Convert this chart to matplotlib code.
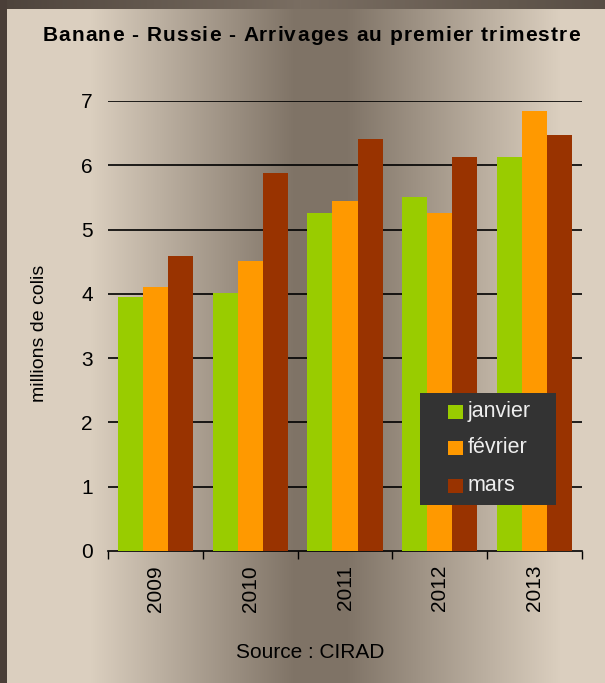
import numpy as np
import matplotlib
matplotlib.use("Agg")
import matplotlib.pyplot as plt
from matplotlib.colors import to_rgb
from matplotlib.patches import Rectangle
from matplotlib.font_manager import FontProperties

plt.rcParams['font.family'] = ['Liberation Sans', 'DejaVu Sans']

years = ['2009', '2010', '2011', '2012', '2013']
series_names = ['janvier', 'février', 'mars']
janvier = [3.95, 4.01, 5.26, 5.51, 6.13]
fevrier = [4.10, 4.51, 5.44, 5.26, 6.84]
mars = [4.59, 5.88, 6.41, 6.13, 6.47]
colors = ['#99cc00', '#ff9900', '#993300']
title = 'Banane - Russie - Arrivages au premier trimestre'
ylabel = 'millions de colis'
source = 'Source : CIRAD'

W, H = 605, 683
fig = plt.figure(figsize=(W / 100, H / 100), dpi=100)


def fx(px):
    return px / W


def fy(py):
    return 1 - py / H


# background gradient
bg = fig.add_axes([0, 0, 1, 1], zorder=-10)
bg.set_axis_off()
light = np.array(to_rgb('#dbcfbf'))
dark = np.array(to_rgb('#7f7366'))
xs = np.arange(W)
t = np.interp(xs, [0, 90, 295, 345, 560, W], [0, 0, 1, 1, 0, 0])
row = light[None, :] * (1 - t[:, None]) + dark[None, :] * t[:, None]
img = np.repeat(row[None, :, :], H, axis=0)
bl = np.array(to_rgb('#4d433b'))
bm = np.array(to_rgb('#7a6e62'))
tb = np.interp(xs, [0, 300, W], [0, 1, 0.25])
band = bl[None, :] * (1 - tb[:, None]) + bm[None, :] * tb[:, None]
img[:9, :, :] = band[None, :, :]
img[:, :7, :] = to_rgb('#4a3f38')
bg.imshow(img, extent=[0, W, 0, H], origin='upper', aspect='auto')
bg.set_xlim(0, W)
bg.set_ylim(0, H)

ax = fig.add_axes([fx(108), fy(551), 474 / W, 450 / H])
ax.patch.set_alpha(0)
x = np.arange(len(years))
bw = 0.265
for i, (vals, c, name) in enumerate(zip([janvier, fevrier, mars], colors, series_names)):
    ax.bar(x + (i - 1) * bw, vals, width=bw, color=c, zorder=3, label=name)

ax.set_ylim(0, 7)
ax.set_xlim(-0.5, len(years) - 0.5)
ax.set_yticks(range(0, 8))
ax.set_yticklabels([str(v) for v in range(0, 8)], fontsize=15)
for v in range(1, 8):
    ax.axhline(v, color='black', lw=1.2, zorder=1)
ax.tick_params(axis='y', length=0, pad=11)
ax.set_xticks(np.arange(-0.5, len(years), 1.0))
ax.set_xticklabels([])
ax.set_xticks(x, minor=True)
ax.set_xticklabels(years, minor=True, rotation=90, fontsize=15)
ax.tick_params(axis='x', which='major', length=6, width=1, color='black', direction='out')
ax.tick_params(axis='x', which='minor', length=0, pad=10)
for s in ['left', 'right', 'top']:
    ax.spines[s].set_visible(False)
ax.spines['bottom'].set_linewidth(1.2)

fig.text(fx(40), fy(333), ylabel, rotation=90, fontsize=14, ha='center', va='center')
fig.text(fx(310), fy(652), source, fontsize=15, ha='center', va='center')

# letter-spaced bold title
renderer = fig.canvas.get_renderer()
prop = FontProperties(family=['Liberation Sans', 'DejaVu Sans'], weight='bold', size=15)


def tw(s):
    w, h, d = renderer.get_text_width_height_descent(s, prop, ismath=False)
    return w


ref_w = tw('l')
spacing = 1.1
offsets = [0.0]
for i in range(1, len(title)):
    offsets.append(tw(title[:i] + 'l') - ref_w + i * spacing)
total = offsets[-1] + tw(title[-1])
x0 = 311 - total / 2
for ch, off in zip(title, offsets):
    if ch != ' ':
        fig.text(fx(x0 + off), fy(41), ch, fontproperties=prop, ha='left', va='baseline')

# legend
fig.add_artist(Rectangle((fx(420), fy(505)), 136 / W, 112 / H, transform=fig.transFigure,
                         facecolor='#333333', edgecolor='none', zorder=5))
sq_bottoms = [419, 455, 493]
for name, c, yb in zip(series_names, colors, sq_bottoms):
    fig.add_artist(Rectangle((fx(448), fy(yb)), 15 / W, 14 / H, transform=fig.transFigure,
                             facecolor=c, edgecolor='none', zorder=6))
    fig.text(fx(468), fy(yb - 2), name, fontsize=15.5, color='#eeeeee',
             ha='left', va='baseline', zorder=7)

fig.savefig('out.png', dpi=100)
